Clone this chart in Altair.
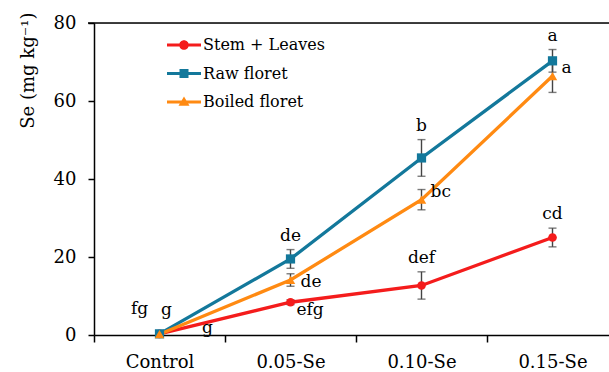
import altair as alt
import pandas as pd

# ---- data ----
categories = ["Control", "0.05-Se", "0.10-Se", "0.15-Se"]
series_names = ["Stem + Leaves", "Raw floret", "Boiled floret"]
stem = [0.3, 8.4, 12.7, 25.0]
stem_err = [0.3, 0.6, 3.5, 2.4]
raw = [0.3, 19.5, 45.4, 70.3]
raw_err = [0.3, 2.4, 4.7, 2.9]
boiled = [0.2, 14.1, 34.7, 66.4]
boiled_err = [0.2, 1.6, 2.6, 4.2]

# significance letters: letter, category, series, placement
letters = ["fg", "g", "g", "efg", "de", "de", "def", "b", "bc", "cd", "a", "a"]
letter_cat = ["Control", "Control", "Control", "0.05-Se", "0.05-Se", "0.05-Se",
              "0.10-Se", "0.10-Se", "0.10-Se", "0.15-Se", "0.15-Se", "0.15-Se"]
letter_series = ["Stem + Leaves", "Raw floret", "Boiled floret", "Stem + Leaves", "Raw floret",
                 "Boiled floret", "Stem + Leaves", "Raw floret", "Boiled floret",
                 "Stem + Leaves", "Raw floret", "Boiled floret"]
letter_place = ["ctl1", "ctl2", "ctl3", "rightlow", "above", "rightmid", "above", "above",
                "right", "above", "above", "right"]

colors = ["#f41c1c", "#13789b", "#ff8a12"]
FONT = "DejaVu Serif"

rows = []
for s, vals, errs in [(series_names[0], stem, stem_err), (series_names[1], raw, raw_err),
                      (series_names[2], boiled, boiled_err)]:
    for i, c in enumerate(categories):
        rows.append({"cat": c, "xi": i + 0.5, "series": s, "val": vals[i],
                     "err": errs[i], "lo": vals[i] - errs[i], "hi": vals[i] + errs[i]})
df = pd.DataFrame(rows)

lab = pd.DataFrame({"letter": letters, "cat": letter_cat, "series": letter_series,
                    "place": letter_place})
lab = lab.merge(df, on=["cat", "series"], how="left")

W, H = 515, 312
x_max = 515 / 131.0

xscale = alt.Scale(domain=[0, x_max], nice=False, zero=False)
yscale = alt.Scale(domain=[0, 80], nice=False)
cscale = alt.Scale(domain=series_names, range=colors)

label_expr = ("datum.value % 1 == 0.5 ? " +
              "['Control','0.05-Se','0.10-Se','0.15-Se'][floor(datum.value)] : ''")

x_axis = alt.Axis(values=[0, 0.5, 1, 1.5, 2, 2.5, 3, 3.5], labelExpr=label_expr,
                  tickOpacity={"condition": {"test": "datum.value % 1 == 0", "value": 1}, "value": 0},
                  grid=False, title=None, tickSize=7, labelPadding=11, labelFont=FONT,
                  labelFontSize=18, labelColor="black", domainColor="black", tickColor="black",
                  domainWidth=1.5, tickWidth=1.5, labelFlush=False, labelOverlap=False)
y_axis = alt.Axis(values=[0, 20, 40, 60, 80], grid=False, title="Se (mg kg⁻¹)",
                  tickSize=6, labelPadding=12, labelFont=FONT, labelFontSize=18,
                  labelColor="black", domainColor="black", tickColor="black",
                  domainWidth=1.5, tickWidth=1.5, titleFont=FONT, titleFontSize=18,
                  titleFontWeight="normal", titleColor="black", titleAngle=270,
                  titleAlign="right", titleBaseline="middle", titleX=-66, titleY=-11)

X = alt.X("xi:Q", scale=xscale, axis=x_axis)
Y = alt.Y("val:Q", scale=yscale, axis=y_axis)
Xn = alt.X("xi:Q", scale=xscale)

base = alt.Chart(df)

layers = []
# axes carrier (invisible line)
layers.append(base.mark_line(opacity=0).encode(x=X, y=Y, detail="series:N"))

for s, col in zip(series_names, colors):
    layers.append(base.transform_filter(alt.datum.series == s).mark_line(
        strokeWidth=3.3, color=col).encode(x=Xn, y=alt.Y("val:Q", scale=yscale)))

layers.append(base.mark_rule(color="#444444", strokeWidth=1.4).encode(
    x=Xn, y=alt.Y("lo:Q", scale=yscale), y2="hi:Q"))
layers.append(base.mark_tick(color="#444444", thickness=1.4, size=8, orient="horizontal").encode(
    x=Xn, y=alt.Y("lo:Q", scale=yscale)))
layers.append(base.mark_tick(color="#444444", thickness=1.4, size=8, orient="horizontal").encode(
    x=Xn, y=alt.Y("hi:Q", scale=yscale)))

shapes = {"Stem + Leaves": ("circle", 75), "Raw floret": ("square", 85),
          "Boiled floret": ("triangle-up", 90)}
for s, col in zip(series_names, colors):
    shp, sz = shapes[s]
    layers.append(
        base.transform_filter(alt.datum.series == s).mark_point(
            shape=shp, filled=True, size=sz, opacity=1, color=col).encode(
            x=Xn, y=alt.Y("val:Q", scale=yscale)))

# legend-only layer (symbols are line + marker paths)
leg_paths = [
    "M-1.7,-0.15H1.7V0.15H-1.7Z M-0.48,0 A0.48,0.48 0 1,1 0.48,0 A0.48,0.48 0 1,1 -0.48,0 Z",
    "M-1.7,-0.15H1.7V0.15H-1.7Z M-0.45,-0.45H0.45V0.45H-0.45Z",
    "M-1.7,-0.15H1.7V0.15H-1.7Z M0,-0.55L0.55,0.38L-0.55,0.38Z",
]
layers.append(alt.Chart(pd.DataFrame({"series": series_names})).mark_point(
    filled=True, opacity=1, clip=True).encode(
    x=alt.value(-2000), y=alt.value(-2000),
    color=alt.Color("series:N", scale=cscale,
                    legend=alt.Legend(title=None, orient="none", legendX=80, legendY=12,
                                      padding=0, symbolSize=400, symbolStrokeWidth=0,
                                      symbolOpacity=1, labelFont=FONT, labelFontSize=16,
                                      labelColor="black", labelOffset=9, rowPadding=10.5,
                                      labelLimit=300)),
    shape=alt.Shape("series:N", scale=alt.Scale(domain=series_names, range=leg_paths))))

# letters
places = {
    "above": dict(dx=0, dy=-5, align="center", baseline="bottom", field="hi"),
    "right": dict(dx=9, dy=-8, align="left", baseline="middle", field="val"),
    "rightmid": dict(dx=10, dy=2, align="left", baseline="middle", field="val"),
    "rightlow": dict(dx=6, dy=8, align="left", baseline="middle", field="val"),
    "ctl1": dict(dx=-20, dy=-25, align="center", baseline="middle", field="val"),
    "ctl2": dict(dx=7, dy=-24, align="center", baseline="middle", field="val"),
    "ctl3": dict(dx=48, dy=-6, align="center", baseline="middle", field="val"),
}
for p, o in places.items():
    layers.append(
        alt.Chart(lab).transform_filter(alt.datum.place == p).mark_text(
            font=FONT, fontSize=17, color="black", dx=o["dx"], dy=o["dy"],
            align=o["align"], baseline=o["baseline"]).encode(
            x=Xn, y=alt.Y(o["field"] + ":Q", scale=yscale), text="letter:N"))

layers.append(alt.Chart(pd.DataFrame({"a": [0]})).mark_rule(
    color="black", strokeWidth=1.5).encode(x=alt.value(-6), x2=alt.value(W), y=alt.value(0)))

chart = alt.layer(*layers).properties(
    width=W, height=H,
    autosize=alt.AutoSizeParams(type="none"),
    padding={"left": 94, "top": 23, "right": 0, "bottom": 37},
).configure_view(stroke=None).configure(background="white")

chart.save("out.html", embed_options={"renderer": "svg", "actions": False})
